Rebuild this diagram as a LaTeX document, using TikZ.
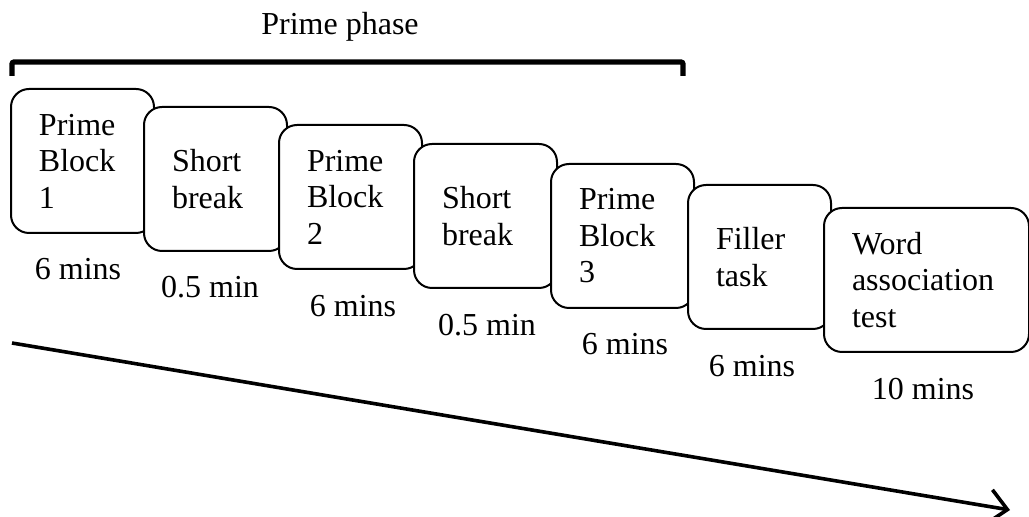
\documentclass[tikz,border=0pt]{standalone}
\usepackage{fontspec}
\setmainfont{Liberation Serif}
\usetikzlibrary{arrows.meta}

\begin{document}
\begin{tikzpicture}[x=0.5pt, y=-0.5pt,
    stage/.style={draw, fill=white, line width=1pt, rounded corners=9pt,
      anchor=north west, minimum height=72pt, inner xsep=14pt, inner ysep=0pt,
      text width=43.5pt, align=left, font=\fontsize{16}{18.25}\selectfont},
    dur/.style={anchor=base, font=\fontsize{16}{18.25}\selectfont}]
  \useasboundingbox (0,0) rectangle (1029,517);

  % bracket over the prime phase
  \node[dur] (phase) at (340,35) {Prime phase};
  \draw[line width=2.6pt, rounded corners=1pt] (12,76)--(12,62)--(683,62)--(683,76);

  % stages, each one drawn over the one before
  \node[stage] (pb1) at (10,88) {Prime\\Block\\1};
  \node[stage] (sb1) at (143,106) {Short\\break};
  \node[stage] (pb2) at (278,124) {Prime\\Block\\2};
  \node[stage] (sb2) at (413,143) {Short\\break};
  \node[stage] (pb3) at (550,163) {Prime\\Block\\3};
  \node[stage] (fill) at (687,184) {Filler\\task};
  \node[stage, text width=74.5pt] (wat) at (823,207) {Word\\association\\test};

  % durations
  \node[dur] (d1) at (78,280) {6 mins};
  \node[dur] (d2) at (210,298) {0.5 min};
  \node[dur] (d3) at (353,317) {6 mins};
  \node[dur] (d4) at (487,336) {0.5 min};
  \node[dur] (d5) at (625,355) {6 mins};
  \node[dur] (d6) at (752,377) {6 mins};
  \node[dur] (d7) at (923,400) {10 mins};

  % time arrow
  \coordinate (tstart) at (12,343);
  \coordinate (tend) at (1010,510);
  \draw[line width=1.8pt, -{Straight Barb[length=9pt,width=17pt]}] (tstart) -- (tend);
\end{tikzpicture}
\end{document}
